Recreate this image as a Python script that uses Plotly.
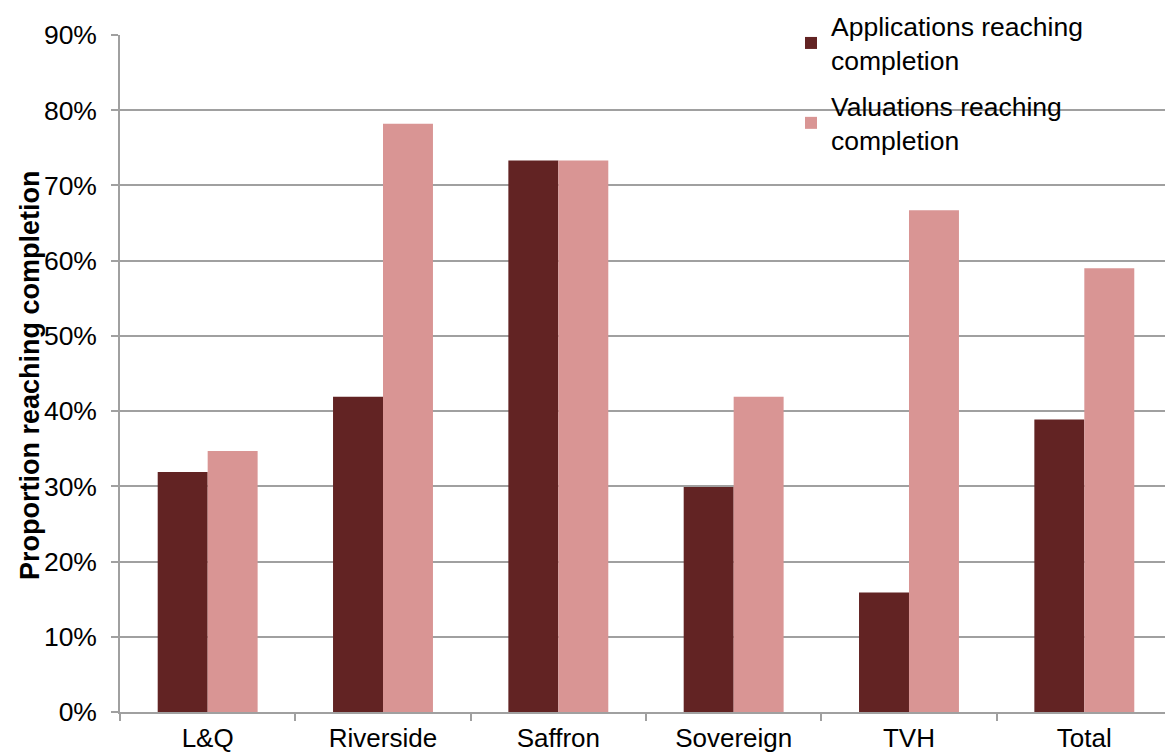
import plotly.graph_objects as go

categories = ["L&Q", "Riverside", "Saffron", "Sovereign", "TVH", "Total"]
applications = [0.319, 0.419, 0.733, 0.299, 0.159, 0.389]
valuations = [0.347, 0.782, 0.733, 0.419, 0.667, 0.590]
y_ticks = [0, 0.1, 0.2, 0.3, 0.4, 0.5, 0.6, 0.7, 0.8, 0.9]

FONT = "Liberation Sans, Arial, sans-serif"
GRID = "#a0a0a0"
W, H = 1165, 755
L, R, T, B = 120, 0, 35, 43
PW, PH = W - L - R, H - T - B
CAT_PX = 175.33  # pixel width of one category slot
YMAX = 0.9


def px_x(p):
    return (p - L) / PW


def px_y(p):
    return 1 - (p - T) / PH


fig = go.Figure()
fig.add_trace(go.Bar(
    x=categories, y=applications,
    name="Applications reaching<br>completion",
    marker=dict(color="#622323", line=dict(width=0)),
    legendgroup="a",
))
fig.add_trace(go.Bar(
    x=categories, y=valuations,
    name="Valuations reaching<br>completion",
    marker=dict(color="#d99594", line=dict(width=0)),
    legendgroup="b",
))

# white backing behind the legend (hides gridlines there)
fig.add_shape(type="rect", xref="x", yref="y",
              x0=(760 - L) / CAT_PX - 0.5, x1=(1133 - L) / CAT_PX - 0.5,
              y0=(H - B - 158) * YMAX / PH, y1=YMAX * 1.05,
              fillcolor="white", line=dict(width=0), layer="below")

fig.update_layout(
    width=W, height=H,
    margin=dict(l=L, r=R, t=T, b=B, autoexpand=False),
    paper_bgcolor="white", plot_bgcolor="white",
    font=dict(family=FONT, size=26.5, color="black"),
    barmode="group", bargap=0.43, bargroupgap=0,
    legend=dict(
        x=px_x(791), y=px_y(2), xanchor="left", yanchor="top",
        bgcolor="rgba(0,0,0,0)", font=dict(size=26.5, family=FONT),
        traceorder="grouped", tracegroupgap=8,
        itemclick=False,
    ),
    xaxis=dict(
        type="category", range=[-0.5, (W - L) / CAT_PX - 0.5], automargin=False,
        showline=True, linecolor=GRID, linewidth=1.5,
        ticks="outside", tickson="boundaries", ticklen=7, tickcolor=GRID, tickwidth=1.5,
        tickfont=dict(size=26, family=FONT),
        ticklabelstandoff=2,
        showgrid=False,
    ),
    yaxis=dict(
        range=[0, YMAX], tickvals=y_ticks, tickformat=".0%", automargin=False,
        showline=True, linecolor=GRID, linewidth=1.5,
        ticks="outside", ticklen=7, tickcolor=GRID, tickwidth=1.5,
        showgrid=True, gridcolor=GRID, gridwidth=1.5,
        tickfont=dict(size=26.5, family=FONT),
        ticklabelstandoff=9,
        zeroline=False,
    ),
    annotations=[dict(
        text="<b>Proportion reaching completion</b>",
        xref="paper", yref="paper", x=px_x(30), y=px_y(375),
        xanchor="center", yanchor="middle", textangle=-90, showarrow=False,
        font=dict(size=27, family=FONT, color="black"),
    )],
)

fig.write_html("out.html", config={"displayModeBar": False},
               post_script="document.body.style.margin='0';")
